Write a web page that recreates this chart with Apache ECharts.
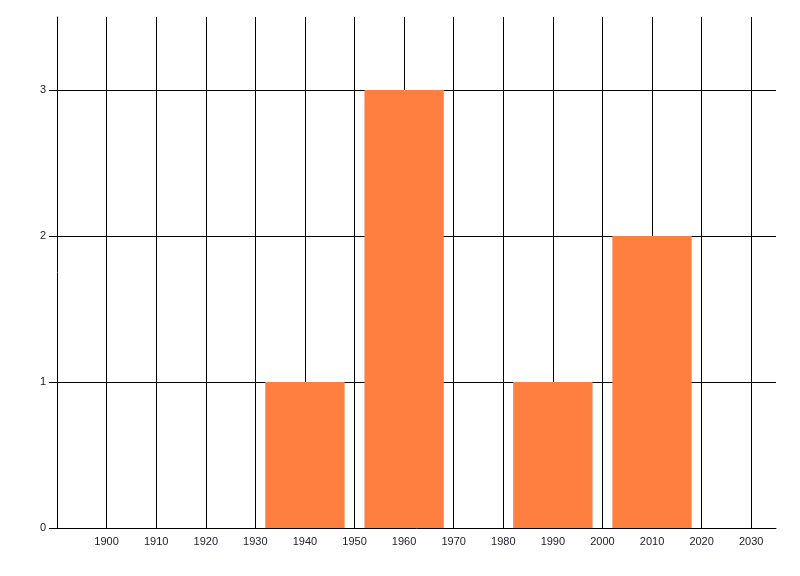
<!DOCTYPE html>
<html><head><meta charset="utf-8">
<script src="https://cdn.jsdelivr.net/npm/echarts@6/dist/echarts.min.js"></script>
<style>html,body{margin:0;padding:0;background:#fff}#c{width:800px;height:576px}</style>
</head><body><div id="c"></div>
<script>
var binCenters = [1940, 1960, 1990, 2010];
var binCounts = [1, 3, 1, 2];
var binWidth = 16;
var xMin = 1890, xMax = 2035, xStep = 10;
var yMin = 0, yMax = 3.5, yStep = 1;

var chart = echarts.init(document.getElementById('c'));
var lineStyle = {color: '#000', width: 1};
chart.setOption({
  animation: false,
  grid: {left: 57, right: 24, top: 17, bottom: 48, containLabel: false},
  xAxis: {
    type: 'value', min: xMin, max: xMax, interval: xStep,
    axisLine: {show: true, lineStyle: lineStyle},
    axisTick: {show: false},
    axisLabel: {showMinLabel: false, showMaxLabel: false, color: '#1a1a2a', fontFamily: 'Liberation Sans, Arial', fontSize: 11, margin: 8,
      formatter: function (v) { return String(v); }},
    splitLine: {show: true, showMinLine: false, showMaxLine: false, lineStyle: lineStyle}
  },
  yAxis: {
    type: 'value', min: yMin, max: yMax, interval: yStep,
    axisLine: {show: true, lineStyle: lineStyle},
    axisTick: {show: true, length: 8, lineStyle: lineStyle},
    axisLabel: {showMaxLabel: false, color: '#1a1a2a', fontFamily: 'Liberation Sans, Arial', fontSize: 11, margin: 11,
      formatter: function (v) { return String(v); }},
    splitLine: {show: true, showMinLine: false, showMaxLine: false, lineStyle: lineStyle}
  },
  series: [{
    type: 'custom',
    data: binCenters.map(function (c, i) { return [c, binCounts[i]]; }),
    encode: {x: 0, y: 1},
    renderItem: function (params, api) {
      var c = api.value(0), v = api.value(1);
      var p0 = api.coord([c - binWidth / 2, v]);
      var p1 = api.coord([c + binWidth / 2, 0]);
      return {type: 'rect', shape: {x: p0[0], y: p0[1], width: p1[0] - p0[0], height: p1[1] - p0[1]}, style: {fill: '#FF7F40'}};
    }
  }]
});
</script></body></html>
